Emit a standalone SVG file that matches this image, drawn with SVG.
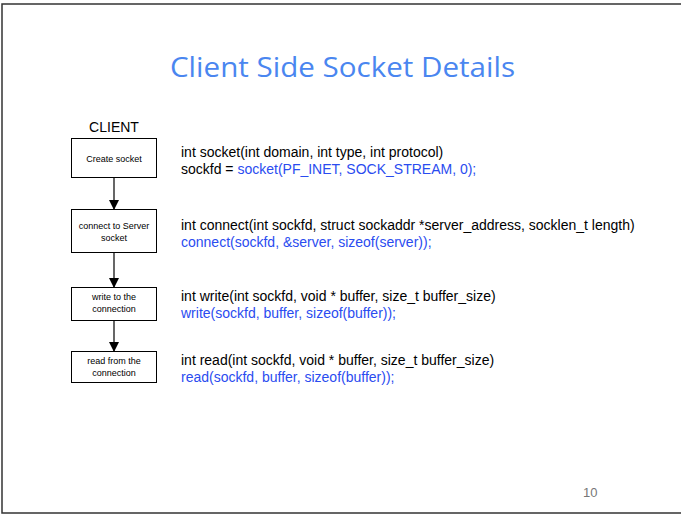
<svg xmlns="http://www.w3.org/2000/svg" width="681" height="515" viewBox="0 0 681 515">
<defs>
<style>
.frame{fill:none;stroke:#333;stroke-width:1.5}
.title{font-family:"Open Sans","DejaVu Sans",sans-serif;font-size:28px;fill:#4a86f0}
.box{fill:#fff;stroke:#000;stroke-width:1}
.bt{font-family:"Liberation Sans",Arial,sans-serif;font-size:9px;fill:#000;text-anchor:middle}
.code{font-family:"Liberation Sans",Arial,sans-serif;font-size:14px;fill:#000}
.blue{fill:#2a4cf0}
.edge{stroke:#000;stroke-width:1.2;fill:none}
</style>
<marker id="ah" markerWidth="10" markerHeight="10" refX="9" refY="5" orient="auto" markerUnits="userSpaceOnUse">
<path d="M0,0 L10,5 L0,10 z" fill="#000"/>
</marker>
</defs>
<rect x="0" y="0" width="681" height="515" fill="#fff"/>
<path class="frame" d="M681,4 L2,4 L2,513 L681,513"/>
<text class="title" x="342.5" y="77" text-anchor="middle" textLength="345" lengthAdjust="spacingAndGlyphs">Client Side Socket Details</text>
<text x="114" y="132" font-family="Liberation Sans, Arial, sans-serif" font-size="14" text-anchor="middle">CLIENT</text>
<g id="connectors">
<line class="edge" x1="114" y1="178" x2="114" y2="209" marker-end="url(#ah)"/>
<line class="edge" x1="114" y1="253" x2="114" y2="287" marker-end="url(#ah)"/>
<line class="edge" x1="114" y1="321" x2="114" y2="351" marker-end="url(#ah)"/>
</g>
<g id="n1">
<rect class="box" x="71.5" y="138.5" width="85" height="39"/>
<text class="bt" x="114" y="161.5">Create socket</text>
</g>
<g id="n2">
<rect class="box" x="71.5" y="209.5" width="85" height="43"/>
<text class="bt" x="114" y="229">connect to Server</text>
<text class="bt" x="114" y="240.5">socket</text>
</g>
<g id="n3">
<rect class="box" x="71.5" y="287.5" width="85" height="33"/>
<text class="bt" x="114" y="300">write to the</text>
<text class="bt" x="114" y="312">connection</text>
</g>
<g id="n4">
<rect class="box" x="71.5" y="351.5" width="85" height="31"/>
<text class="bt" x="114" y="364">read from the</text>
<text class="bt" x="114" y="376">connection</text>
</g>
<g id="code">
<text class="code" x="181" y="157">int socket(int domain, int type, int protocol)</text>
<text class="code" x="181" y="174">sockfd = <tspan class="blue">socket(PF_INET, SOCK_STREAM, 0);</tspan></text>
<text class="code" x="181" y="230">int connect(int sockfd, struct sockaddr *server_address, socklen_t length)</text>
<text class="code blue" x="181" y="247">connect(sockfd, &amp;server, sizeof(server));</text>
<text class="code" x="181" y="301">int write(int sockfd, void * buffer, size_t buffer_size)</text>
<text class="code blue" x="181" y="318">write(sockfd, buffer, sizeof(buffer));</text>
<text class="code" x="181" y="365">int read(int sockfd, void * buffer, size_t buffer_size)</text>
<text class="code blue" x="181" y="382">read(sockfd, buffer, sizeof(buffer));</text>
</g>
<text x="583" y="497" font-family="Liberation Sans, Arial, sans-serif" font-size="13" fill="#777">10</text>
</svg>
